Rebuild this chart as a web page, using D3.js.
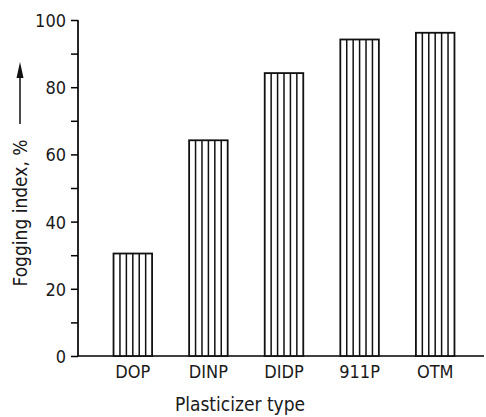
<!DOCTYPE html>
<html>
<head>
<meta charset="utf-8">
<script src="https://cdn.jsdelivr.net/npm/d3@7"></script>
<style>
  body { margin: 0; background: #fff; }
  text { font-family: "DejaVu Sans", sans-serif; font-stretch: condensed; fill: #1a1a1a; }
</style>
</head>
<body>
<div id="chart"></div>
<script>
const categories = ['DOP', 'DINP', 'DIDP', '911P', 'OTM'];
const fogging = [30.5, 64.2, 84.2, 94.2, 96.2];
const yTicks = [0, 10, 20, 30, 40, 50, 60, 70, 80, 90, 100];

(function(){
    const fullWidth = 486;
    const fullHeight = 417;
    const left = 78, top = 20, bottom = 356, axisRight = 484;

    const svg = d3.select('#chart')
        .append('svg')
            .attr('width', fullWidth)
            .attr('height', fullHeight);

    const yScale = d3.scaleLinear()
        .domain([0, 100])
        .range([bottom, top]);

    const xScale = d3.scaleBand()
        .domain(categories)
        .range([left, 490])
        .paddingInner(0.49)
        .paddingOuter(0.47);

    // y axis, major ticks every 20 labelled, minor every 10
    const yAxis = d3.axisLeft(yScale)
        .tickValues(yTicks)
        .tickSize(7)
        .tickPadding(5)
        .tickFormat(d => d % 20 === 0 ? d : '');

    const yg = svg.append('g')
        .attr('transform', `translate(${left}, 0)`)
        .call(yAxis);
    yg.select('.domain').attr('d', `M0,${top}V${bottom}`).attr('stroke-width', 1.7);
    yg.selectAll('.tick line').attr('stroke-width', 1.5);
    yg.selectAll('.tick text')
        .style('font-size', '18px')
        .attr('dy', '0.36em');

    // x axis
    const xAxis = d3.axisBottom(xScale)
        .tickSize(0)
        .tickPadding(9);
    const xg = svg.append('g')
        .attr('transform', `translate(0, ${bottom})`)
        .call(xAxis);
    xg.select('.domain').attr('d', `M${left},0H${axisRight}`).attr('stroke-width', 1.7);
    xg.selectAll('.tick text').style('font-size', '18px');

    // bars
    const bars = svg.selectAll('g.bar')
        .data(categories.map((c, i) => ({ name: c, value: fogging[i] })))
        .enter()
        .append('g')
            .attr('class', 'bar');

    bars.append('rect')
        .attr('x', d => xScale(d.name))
        .attr('y', d => yScale(d.value))
        .attr('width', xScale.bandwidth())
        .attr('height', d => bottom - yScale(d.value))
        .attr('fill', '#fff')
        .attr('stroke', '#111')
        .attr('stroke-width', 1.8);

    // vertical hatching, 5 interior lines
    bars.each(function(d) {
        const g = d3.select(this);
        const bw = xScale.bandwidth();
        d3.range(1, 6).forEach(k => {
            const x = xScale(d.name) + bw * k / 6;
            g.append('line')
                .attr('x1', x).attr('x2', x)
                .attr('y1', yScale(d.value))
                .attr('y2', bottom)
                .attr('stroke', '#111')
                .attr('stroke-width', 1.5);
        });
    });

    // axis titles
    svg.append('text')
        .attr('x', 240)
        .attr('y', 411)
        .attr('text-anchor', 'middle')
        .style('font-size', '19px')
        .text('Plasticizer type');

    svg.append('text')
        .attr('transform', 'translate(27, 213) rotate(-90)')
        .attr('text-anchor', 'middle')
        .style('font-size', '19px')
        .text('Fogging index, %');

    // arrow above the y title
    svg.append('line')
        .attr('x1', 20).attr('x2', 20)
        .attr('y1', 124).attr('y2', 74)
        .attr('stroke', '#111')
        .attr('stroke-width', 1.5);

    svg.append('path')
        .attr('d', 'M20,62L16.5,78L23.5,78Z')
        .attr('fill', '#111');
}())
</script>
</body>
</html>
